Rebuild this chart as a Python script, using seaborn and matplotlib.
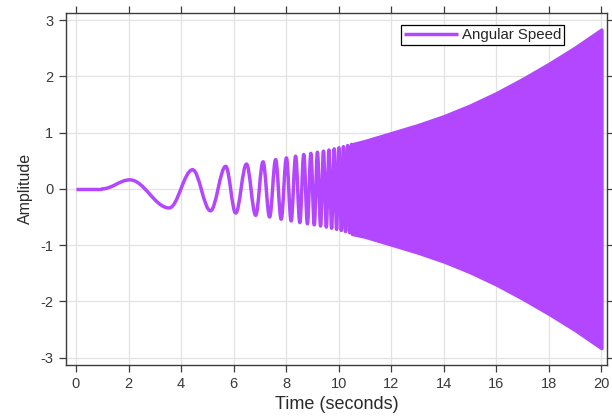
import matplotlib
matplotlib.use("Agg")
import matplotlib.pyplot as plt
from matplotlib.path import Path
from matplotlib.patches import PathPatch
import pandas as pd
import seaborn as sns

# quiet interval before the excitation starts
rest_time = [0.0, 1.0]
rest_amp = [0.0, 0.0]

# successive turning points of the response (time in s, amplitude)
turn_time = [1.00, 2.05, 3.55, 4.44, 5.12, 5.70, 6.08, 6.49, 6.84, 7.12,
             7.37, 7.60, 7.81, 8.01, 8.19, 8.36, 8.52, 8.67, 8.81, 8.94,
             9.07, 9.19, 9.31, 9.42, 9.53, 9.63, 9.73, 9.83, 9.92, 10.01,
             10.10, 10.18, 10.26, 10.34, 10.42, 10.49, 10.56]
turn_amp = [0.00, 0.16, -0.34, 0.34, -0.39, 0.40, -0.43, 0.44, -0.47, 0.48,
            -0.50, 0.52, -0.54, 0.55, -0.57, 0.58, -0.60, 0.61, -0.62, 0.63,
            -0.64, 0.65, -0.66, 0.67, -0.68, 0.69, -0.70, 0.71, -0.72, 0.73,
            -0.74, 0.75, -0.76, 0.77, -0.78, 0.79, -0.80]

# envelope of the fast oscillation
env_time = [10.50, 11.0, 11.5, 12.0, 13.0, 14.0, 15.0, 16.0, 17.0, 18.0, 19.0, 20.0]
env_upper = [0.79, 0.85, 0.92, 0.99, 1.13, 1.29, 1.48, 1.70, 1.95, 2.22, 2.51, 2.83]
env_lower = [-0.80, -0.85, -0.92, -0.99, -1.13, -1.29, -1.48, -1.70, -1.95, -2.22, -2.51, -2.83]

series_label = "Angular Speed"
x_ticks = list(range(0, 21, 2))
y_ticks = [-3, -2, -1, 0, 1, 2, 3]

LINE = "#b347ff"
INK = "#3c3c3c"

sns.set_theme(style="whitegrid")
plt.rcParams["font.family"] = ["Liberation Sans", "DejaVu Sans"]
plt.rcParams["axes.unicode_minus"] = False

fig = plt.figure(figsize=(6.12, 4.16), dpi=100)
ax = fig.add_axes([0.1074, 0.1226, 0.8852, 0.8469])
ax.set_facecolor("white")

# flat start, also provides the legend entry
rest = pd.DataFrame({"t": rest_time, "amp": rest_amp})
sns.lineplot(data=rest, x="t", y="amp", ax=ax, color=LINE, linewidth=2.5,
             label=series_label, solid_capstyle="butt")

# smooth swing between consecutive turning points (cubic segments with flat tangents)
k = 0.364
verts = [(turn_time[0], turn_amp[0])]
codes = [Path.MOVETO]
for (t0, a0), (t1, a1) in zip(zip(turn_time[:-1], turn_amp[:-1]),
                              zip(turn_time[1:], turn_amp[1:])):
    d = t1 - t0
    verts += [(t0 + k * d, a0), (t1 - k * d, a1), (t1, a1)]
    codes += [Path.CURVE4] * 3
ax.add_patch(PathPatch(Path(verts, codes), facecolor="none", edgecolor=LINE,
                       linewidth=2.5, joinstyle="round", capstyle="round"))

# band traced out once the oscillation is too fast to resolve
ax.fill_between(env_time, env_lower, env_upper, color=LINE, linewidth=2.5,
                edgecolor=LINE)

ax.set_xlim(-0.39, 20.23)
ax.set_ylim(-3.13, 3.13)
ax.set_xticks(x_ticks)
ax.set_yticks(y_ticks)
ax.grid(True, color="#e2e2e2", linewidth=0.9)

for side in ("left", "right", "top", "bottom"):
    ax.spines[side].set_visible(True)
    ax.spines[side].set_color(INK)
    ax.spines[side].set_linewidth(1.0)

ax.tick_params(direction="out", length=5, width=0.9, color=INK,
               top=True, right=True, bottom=True, left=True,
               labeltop=False, labelright=False,
               labelsize=10.5, labelcolor="#3a3a3a", pad=4)

ax.set_xlabel("Time (seconds)", fontsize=13, color="#2a2a2a", labelpad=3)
ax.set_ylabel("Amplitude", fontsize=11.5, color="#2a2a2a", labelpad=5)

leg = ax.legend(loc="upper right", bbox_to_anchor=(0.920, 0.965),
                borderaxespad=0.0, fontsize=10.8, frameon=True, fancybox=False,
                framealpha=1.0, edgecolor="black", handlelength=3.6,
                handletextpad=0.25, borderpad=0.2)
leg.get_frame().set_linewidth(0.9)
for line in leg.get_lines():
    line.set_linewidth(2.5)

fig.savefig("out.png", dpi=100, facecolor="white")
